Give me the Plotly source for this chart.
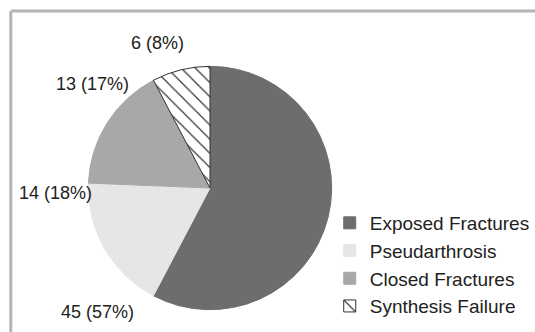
import plotly.graph_objects as go

categories = ["Exposed Fractures", "Pseudarthrosis", "Closed Fractures", "Synthesis Failure"]
counts = [45, 14, 13, 6]
percent_labels = ["57%", "18%", "17%", "8%"]

# styles / positions (not data)
slice_colors = ["#6d6d6d", "#e6e6e6", "#a8a8a8", "#ffffff"]
line_colors = ["#6d6d6d", "#e6e6e6", "#a8a8a8", "#333333"]
patterns = ["", "", "", "\\"]
label_pos = [(99, 312), (57, 193), (94, 84), (160, 43)]  # pixel centres of the labels

W, H = 535, 332
cx, cy, r = 214, 188, 124

fig = go.Figure(go.Pie(
    labels=categories,
    values=counts,
    sort=False,
    direction="clockwise",
    rotation=0,
    textinfo="none",
    hoverinfo="label+value+percent",
    marker=dict(
        colors=slice_colors,
        line=dict(color=line_colors, width=1),
        pattern=dict(shape=patterns, fgcolor="#333333", bgcolor="#ffffff", size=10, solidity=0.12),
    ),
    domain=dict(x=[(cx - r) / W, (cx + r) / W], y=[(H - cy - r) / H, (H - cy + r) / H]),
))

annotations = []
for n, p, (px, py) in zip(counts, percent_labels, label_pos):
    annotations.append(dict(
        x=px / W, y=1 - py / H, xref="paper", yref="paper",
        text=f"{n} ({p})", showarrow=False, xanchor="center", yanchor="middle",
        font=dict(family="Liberation Sans, Arial, sans-serif", size=18, color="#222222"),
    ))

shapes = [
    dict(type="line", xref="paper", yref="paper", x0=11 / W, x1=1.05, y0=1 - 11 / H, y1=1 - 11 / H,
         line=dict(color="#b4b4b4", width=3)),
    dict(type="line", xref="paper", yref="paper", x0=11 / W, x1=11 / W, y0=-0.05, y1=1 - 11 / H,
         line=dict(color="#b4b4b4", width=3)),
]

fig.update_layout(
    width=W, height=H,
    margin=dict(l=0, r=0, t=0, b=0),
    paper_bgcolor="white",
    plot_bgcolor="white",
    annotations=annotations,
    shapes=shapes,
    showlegend=True,
    legend=dict(
        x=336 / W, y=1 - 204 / H, xanchor="left", yanchor="top",
        font=dict(family="Liberation Sans, Arial, sans-serif", size=19, color="#222222"),
        bgcolor="rgba(0,0,0,0)", itemclick=False,
    ),
)

fig.write_html("out.html")
